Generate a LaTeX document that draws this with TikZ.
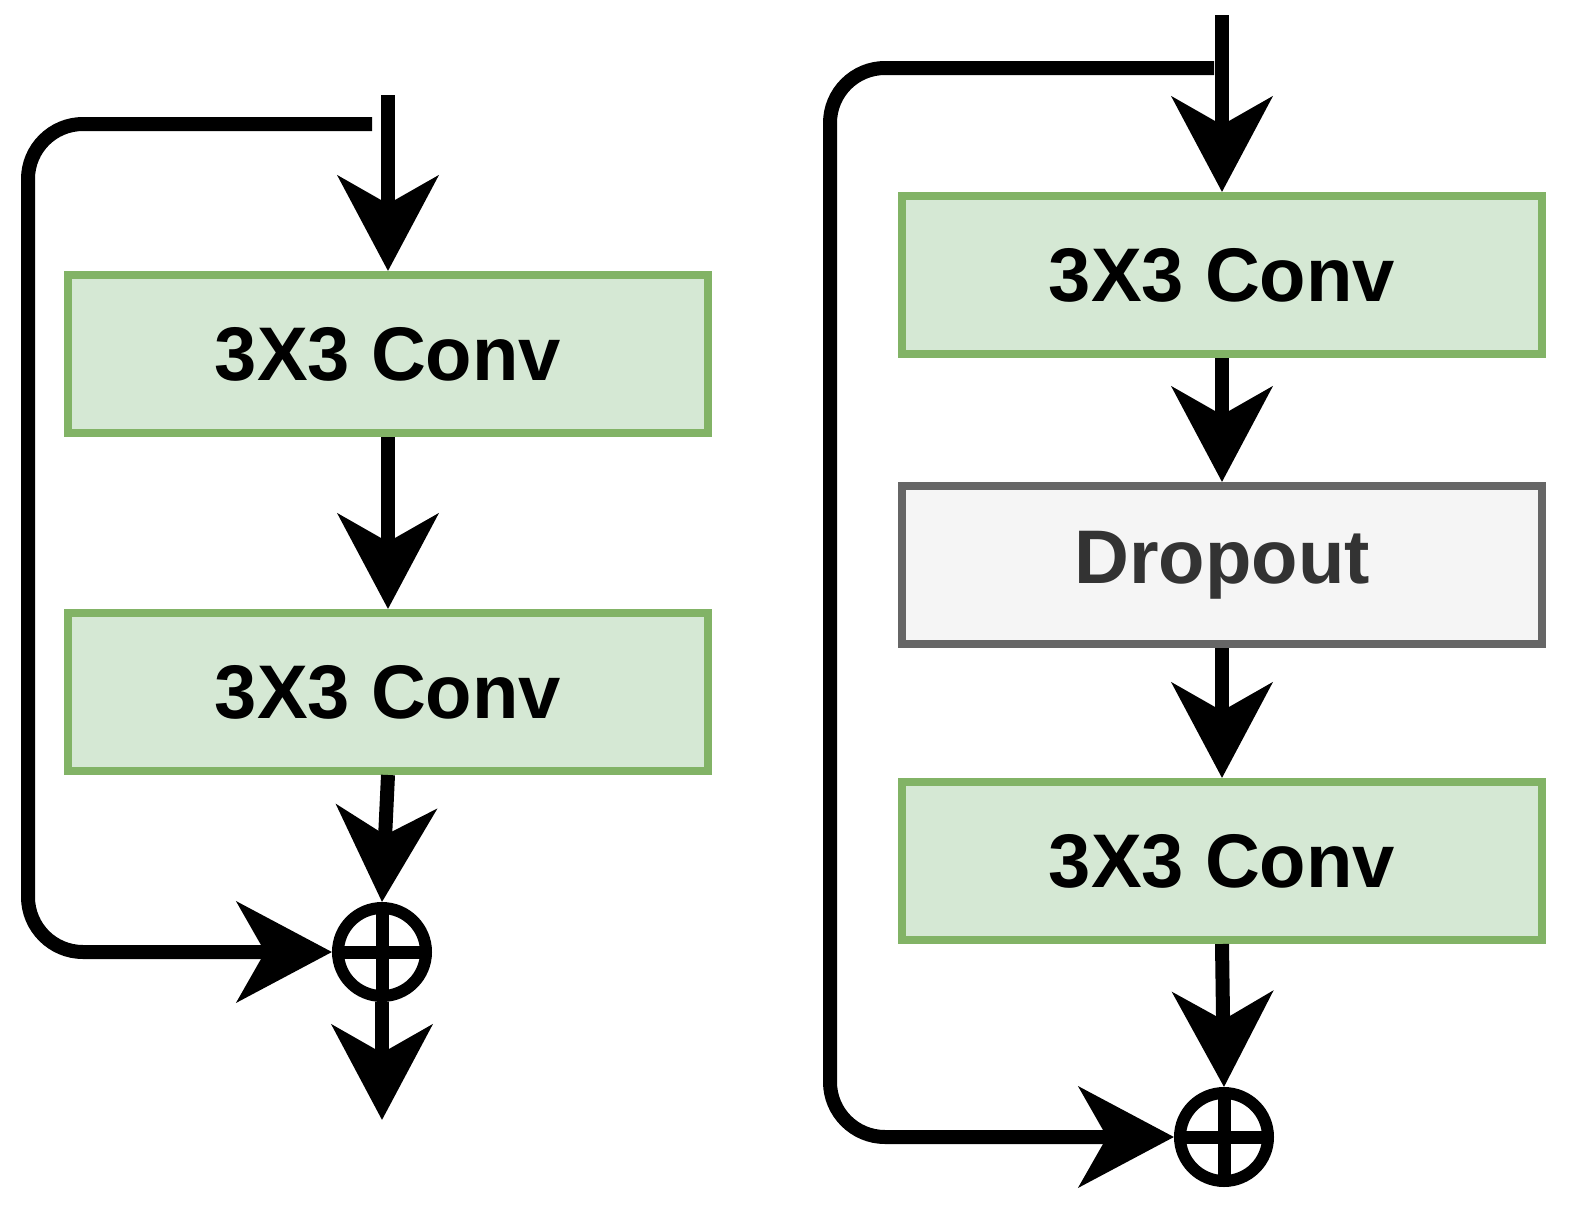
\documentclass[tikz,border=0pt]{standalone}
\usepackage{fontspec}
\setmainfont{Liberation Sans}
\usetikzlibrary{arrows.meta}
\definecolor{convfill}{HTML}{D5E8D4}
\definecolor{convline}{HTML}{82B366}
\definecolor{dropfill}{HTML}{F5F5F5}
\definecolor{dropline}{HTML}{666666}
\definecolor{droptext}{HTML}{333333}
\tikzset{
  conv/.style={draw=convline,fill=convfill,line width=8pt,minimum width=640pt,minimum height=158pt,
    font=\fontsize{76}{86}\selectfont\bfseries,inner sep=0pt},
  drop/.style={conv,draw=dropline,fill=dropfill,text=droptext},
  addop/.style={circle,draw,line width=12pt,minimum size=88pt,inner sep=0pt,
    path picture={\draw[line width=13pt] (path picture bounding box.north) -- (path picture bounding box.south)
      (path picture bounding box.west) -- (path picture bounding box.east);}},
  flow/.style={line width=14pt,-{Stealth[length=95pt,width=100pt,inset=28pt]}},
  skip/.style={line width=14pt,rounded corners=55pt,-{Stealth[length=95pt,width=100pt,inset=28pt]}}
}
\begin{document}
\begin{tikzpicture}[x=1pt,y=-1pt]
\useasboundingbox (0,0) rectangle (1590,1218);

% left block
\coordinate (lin) at (388,95);
\node[conv] (lconva) at (388,354) {3X3 Conv};
\node[conv] (lconvb) at (388,692) {3X3 Conv};
\node[addop] (ladd) at (382,952) {};
\coordinate (lout) at (382,1120);
\coordinate (lsplit) at (372,124);
\draw[flow] (lin) -- (lconva.north);
\draw[flow] (lconva.south) -- (lconvb.north);
\draw[flow] (lconvb.south) -- (ladd.north);
\draw[flow] (ladd.south) -- (lout);
\draw[skip] (lsplit) -- (28,124) |- (ladd.west);

% right block
\coordinate (rin) at (1222,15);
\node[conv] (rconva) at (1222,275) {3X3 Conv};
\node[drop] (rdrop) at (1222,565) {Dropout};
\node[conv] (rconvb) at (1222,861) {3X3 Conv};
\node[addop] (radd) at (1224,1137) {};
\coordinate (rsplit) at (1214,68);
\draw[flow] (rin) -- (rconva.north);
\draw[flow] (rconva.south) -- (rdrop.north);
\draw[flow] (rdrop.south) -- (rconvb.north);
\draw[flow] (rconvb.south) -- (radd.north);
\draw[skip] (rsplit) -- (830,68) |- (radd.west);
\end{tikzpicture}
\end{document}
